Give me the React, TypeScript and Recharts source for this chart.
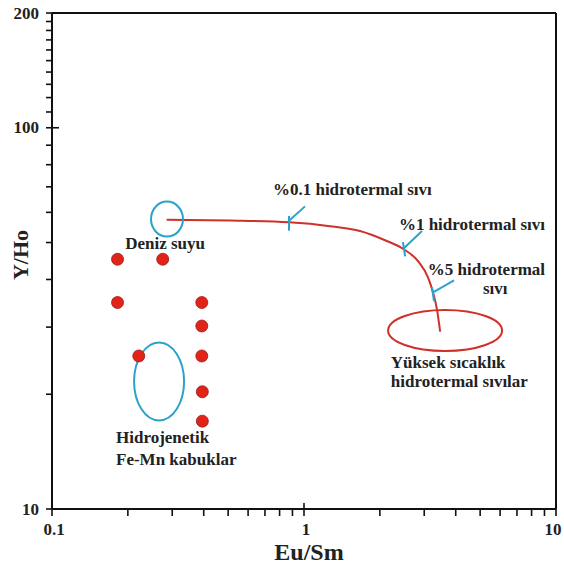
import React from "react";
import {
  ComposedChart,
  Scatter,
  Line,
  XAxis,
  YAxis,
  ReferenceLine,
  ReferenceDot,
  Label,
} from "recharts";

const FONT = "Liberation Serif";
const BLUE = "#2aa3cb";
const RED = "#d0302a";

const xTicks = [0.1, 0.2, 0.3, 0.4, 0.5, 0.6, 0.7, 0.8, 0.9, 1, 2, 3, 4, 5, 6, 7, 8, 9, 10];
const xMajor = [0.1, 1, 10];
const yTicks = [10, 20, 30, 40, 50, 60, 70, 80, 90, 100, 110, 120, 130, 140, 150, 160, 170, 180, 190, 200];
const yMajor = [10, 100, 200];

// Fe-Mn crust samples
const samples = [
  { x: 0.182, y: 45.2 },
  { x: 0.275, y: 45.2 },
  { x: 0.182, y: 34.8 },
  { x: 0.393, y: 34.8 },
  { x: 0.393, y: 30.2 },
  { x: 0.221, y: 25.2 },
  { x: 0.393, y: 25.2 },
  { x: 0.395, y: 20.3 },
  { x: 0.395, y: 17.0 },
];

// seawater - hydrothermal fluid mixing curve
const mixingCurve = [
  { x: 0.285, y: 57.4 },
  { x: 0.508, y: 57.1 },
  { x: 0.872, y: 56.5 },
  { x: 1.268, y: 55.2 },
  { x: 1.668, y: 53.6 },
  { x: 2.096, y: 50.7 },
  { x: 2.49, y: 48.0 },
  { x: 2.835, y: 44.7 },
  { x: 3.105, y: 40.5 },
  { x: 3.25, y: 37.0 },
  { x: 3.37, y: 33.4 },
  { x: 3.47, y: 29.2 },
];

// blue marker ticks on the curve and leader lines
const markerSegments = [
  [{ x: 0.872, y: 58.7 }, { x: 0.872, y: 53.7 }],
  [{ x: 0.872, y: 57.0 }, { x: 1.009, y: 62.2 }],
  [{ x: 2.47, y: 50.1 }, { x: 2.52, y: 46.0 }],
  [{ x: 2.49, y: 48.3 }, { x: 2.94, y: 53.6 }],
  [{ x: 3.22, y: 38.2 }, { x: 3.28, y: 35.1 }],
  [{ x: 3.25, y: 37.0 }, { x: 3.94, y: 39.8 }],
];

const ellipses = [
  { x: 0.286, y: 57.6, rx: 16, ry: 17.5, color: BLUE },
  { x: 0.266, y: 21.6, rx: 25, ry: 39, color: BLUE },
  { x: 3.63, y: 29.4, rx: 57, ry: 20.5, color: RED },
];

const labels = [
  { x: 0.281, y: 49.8, text: "Deniz suyu", anchor: "middle" },
  { x: 0.753, y: 69.0, text: "%0.1 hidrotermal sıvı", anchor: "start" },
  { x: 2.38, y: 55.9, text: "%1 hidrotermal sıvı", anchor: "start" },
  { x: 3.1, y: 42.6, text: "%5 hidrotermal", anchor: "start" },
  { x: 5.13, y: 37.9, text: "sıvı", anchor: "start" },
  { x: 2.21, y: 24.2, text: "Yüksek sıcaklık", anchor: "start" },
  { x: 2.21, y: 21.6, text: "hidrotermal sıvılar", anchor: "start" },
  { x: 0.1795, y: 15.4, text: "Hidrojenetik", anchor: "start" },
  { x: 0.1795, y: 13.5, text: "Fe-Mn kabuklar", anchor: "start" },
];

const textStyle = { fontFamily: FONT, fontWeight: 700, fill: "#222" };

function XTick(props: any) {
  const { x, y, payload } = props;
  const major = xMajor.includes(payload.value);
  // keep the last label inside the page
  const lx = payload.value === 10 ? x - 3 : x + 2;
  return (
    <g>
      <line x1={x} x2={x} y1={major ? y - 6 : y} y2={y + 7} stroke="#111" strokeWidth={1.6} />
      {major && (
        <text x={lx} y={y + 20} textAnchor="middle" dominantBaseline="central" fontSize={17} {...textStyle}>
          {payload.value}
        </text>
      )}
    </g>
  );
}

function YTick(props: any) {
  const { x, y, payload } = props;
  const major = yMajor.includes(payload.value);
  return (
    <g>
      <line x1={x - 6} x2={major ? x + 7 : x} y1={y} y2={y} stroke="#111" strokeWidth={1.6} />
      {major && (
        <text x={x - 13} y={y} textAnchor="end" dominantBaseline="central" fontSize={17} {...textStyle}>
          {payload.value}
        </text>
      )}
    </g>
  );
}

const sampleDot = (p: any) => (
  <circle cx={p.cx} cy={p.cy} r={6} fill="#e2231a" stroke="#9a1c14" strokeWidth={0.8} />
);

export default function App() {
  return (
    <div style={{ position: "absolute", left: 0, top: 0, background: "#fff" }}>
      <ComposedChart width={564} height={565} margin={{ top: 13, right: 8, bottom: 0, left: 0 }}>
        <XAxis
          dataKey="x"
          type="number"
          scale="log"
          domain={[0.1, 10]}
          allowDataOverflow
          ticks={xTicks}
          interval={0}
          tick={<XTick />}
          tickLine={false}
          tickSize={0}
          tickMargin={0}
          height={56}
          axisLine={{ stroke: "#111", strokeWidth: 2 }}
        >
          <Label
            content={(p: any) => {
              const vb = p.viewBox;
              return (
                <text
                  x={vb.x + vb.width / 2 + 5}
                  y={vb.y + 43}
                  textAnchor="middle"
                  dominantBaseline="central"
                  fontSize={24}
                  {...textStyle}
                >
                  Eu/Sm
                </text>
              );
            }}
          />
        </XAxis>
        <YAxis
          type="number"
          scale="log"
          domain={[10, 200]}
          allowDataOverflow
          ticks={yTicks}
          interval={0}
          tick={<YTick />}
          tickLine={false}
          tickSize={0}
          tickMargin={0}
          width={52}
          axisLine={{ stroke: "#111", strokeWidth: 2 }}
        >
          <Label
            content={(p: any) => {
              const vb = p.viewBox;
              const cx = vb.x + 20;
              const cy = vb.y + vb.height / 2 - 6;
              return (
                <text
                  x={cx}
                  y={cy}
                  transform={`rotate(-90 ${cx} ${cy})`}
                  textAnchor="middle"
                  dominantBaseline="central"
                  fontSize={22}
                  {...textStyle}
                >
                  Y/Ho
                </text>
              );
            }}
          />
        </YAxis>

        <ReferenceLine y={200} stroke="#111" strokeWidth={2} />
        <ReferenceLine x={10} stroke="#111" strokeWidth={2} />

        {ellipses.map((e, i) => (
          <ReferenceDot
            key={"e" + i}
            x={e.x}
            y={e.y}
            ifOverflow="visible"
            shape={(p: any) => (
              <ellipse cx={p.cx} cy={p.cy} rx={e.rx} ry={e.ry} fill="none" stroke={e.color} strokeWidth={2} />
            )}
          />
        ))}

        <Line
          data={mixingCurve}
          dataKey="y"
          type="monotone"
          stroke={RED}
          strokeWidth={2}
          dot={false}
          isAnimationActive={false}
        />

        {markerSegments.map((s, i) => (
          <ReferenceLine key={"m" + i} segment={s} stroke={BLUE} strokeWidth={2} ifOverflow="visible" />
        ))}

        <Scatter data={samples} dataKey="y" shape={sampleDot} isAnimationActive={false} />

        {labels.map((l, i) => (
          <ReferenceDot
            key={"l" + i}
            x={l.x}
            y={l.y}
            ifOverflow="visible"
            shape={(p: any) => (
              <text
                x={p.cx}
                y={p.cy}
                textAnchor={l.anchor}
                dominantBaseline="central"
                fontSize={17}
                {...textStyle}
              >
                {l.text}
              </text>
            )}
          />
        ))}
      </ComposedChart>
    </div>
  );
}
